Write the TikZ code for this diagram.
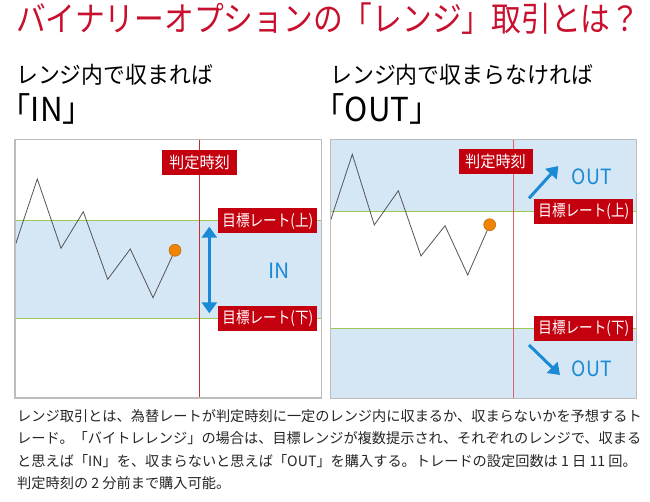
\documentclass[tikz,border=0pt]{standalone}
\usepackage{fontspec}
\setmainfont{Noto Sans CJK JP}
\newfontfamily\jphalt[RawFeature=+halt]{Noto Sans CJK JP}
\usetikzlibrary{arrows.meta}
\definecolor{titlered}{HTML}{C8102E}
\definecolor{boxred}{HTML}{C4000F}
\definecolor{bandblue}{HTML}{D5E6F5}
\definecolor{arrowblue}{HTML}{1A8AD4}
\definecolor{rangegreen}{HTML}{9CCB52}
\definecolor{framegray}{HTML}{BDBDBD}
\definecolor{timered}{HTML}{C0302A}
\definecolor{timepink}{HTML}{DC6272}
\definecolor{dotorange}{HTML}{F08300}
\definecolor{dotedge}{HTML}{B86A10}
\definecolor{pricegray}{HTML}{555555}
\newcommand{\sx}[2]{\scalebox{#1}[1]{#2}}
\begin{document}
\begin{tikzpicture}[x=1pt,y=-1pt,
  tagbox/.style={fill=boxred, text=white, inner sep=0pt, minimum height=25pt,
    font=\fontsize{16}{16}\selectfont},
  pricepath/.style={pricegray, line width=0.8pt, line join=miter},
  pricedot/.style={circle, fill=dotorange, draw=dotedge, line width=0.5pt, inner sep=0pt, minimum size=12pt},
  rangeline/.style={rangegreen, line width=1.2pt},
  frame/.style={framegray, line width=1.5pt},
  bluearrow/.style={arrowblue, line width=3pt, -{Triangle[width=15pt,length=11pt]}},
  bluedouble/.style={arrowblue, line width=3pt, {Triangle[width=15pt,length=11pt]}-{Triangle[width=15pt,length=11pt]}},
  bluetext/.style={text=arrowblue, inner sep=0pt, anchor=base, font=\fontsize{21}{21}\selectfont},
  bodytext/.style={anchor=base west, inner sep=0pt, font=\fontsize{14.2}{14.2}\selectfont, text=black!85}
]
\useasboundingbox (0,0) rectangle (650,502);
\fill[white] (0,0) rectangle (650,502);

% ---------- titles ----------
\node[anchor=base west, inner sep=0pt, text=titlered, font=\fontsize{34}{34}\selectfont]
  (title) at (16,32) {\sx{0.875}{バイナリーオプションの「レンジ」取引とは？}};
\node[anchor=base west, inner sep=0pt, font=\fontsize{23}{23}\selectfont]
  (subin) at (16,84) {\sx{0.95}{レンジ内で収まれば}};
\node[anchor=base west, inner sep=0pt, font=\fontsize{33}{33}\selectfont]
  (bigin) at (15,122) {\sx{0.95}{\jphalt 「IN」}};
\node[anchor=base west, inner sep=0pt, font=\fontsize{23}{23}\selectfont]
  (subout) at (330,84) {\sx{0.953}{レンジ内で収まらなければ}};
\node[anchor=base west, inner sep=0pt, font=\fontsize{33}{33}\selectfont]
  (bigout) at (329,122) {\sx{0.95}{\jphalt 「OUT」}};

% ---------- left panel (IN) ----------
\fill[white] (15,139.5) rectangle (321.5,398);
\fill[bandblue] (15,220.7) rectangle (321.5,318.3);
\draw[rangeline] (15,220.7) -- (321.5,220.7);
\draw[rangeline] (15,318.3) -- (321.5,318.3);
\draw[timered, line width=0.9pt] (199.5,139.5) -- (199.5,398);
\coordinate (a1) at (15,246);
\coordinate (a2) at (37.3,179);
\coordinate (a3) at (61,248.3);
\coordinate (a4) at (83.3,211.7);
\coordinate (a5) at (107.7,279.3);
\coordinate (a6) at (130.3,249);
\coordinate (a7) at (153,297.7);
\node[pricedot] (adot) at (175,250.3) {};
\draw[pricepath] (a1) -- (a2) -- (a3) -- (a4) -- (a5) -- (a6) -- (a7) -- (adot);
\node[tagbox, minimum width=75pt] (ltime) at (199.5,162.5) {\sx{0.95}{判定時刻}};
\node[tagbox, minimum width=99pt] (lupper) at (267.8,221) {\sx{0.85}{目標レート(上)}};
\node[tagbox, minimum width=99pt] (llower) at (267.8,318.8) {\sx{0.85}{目標レート(下)}};
\coordinate (intop) at (209.3,226.7);
\coordinate (inbot) at (209.3,313.3);
\draw[bluedouble] (intop) -- (inbot);
\node[bluetext] (intext) at (279.3,278.3) {IN};
\draw[frame] (15,139.5) rectangle (321.5,398);

% ---------- right panel (OUT) ----------
\fill[bandblue] (330.7,139.5) rectangle (636.7,398.3);
\fill[white] (330.7,211.7) rectangle (636.7,328.3);
\draw[rangeline] (330.7,211.7) -- (636.7,211.7);
\draw[rangeline] (330.7,328.3) -- (636.7,328.3);
\draw[timepink, line width=0.9pt] (513.7,139.5) -- (513.7,398.3);
\coordinate (b1) at (330.7,220);
\coordinate (b2) at (352.3,154.3);
\coordinate (b3) at (374.3,225);
\coordinate (b4) at (398.3,190.7);
\coordinate (b5) at (421,256);
\coordinate (b6) at (445,225.7);
\coordinate (b7) at (467.7,275);
\node[pricedot] (bdot) at (489.7,224.7) {};
\draw[pricepath] (b1) -- (b2) -- (b3) -- (b4) -- (b5) -- (b6) -- (b7) -- (bdot);
\node[tagbox, minimum width=74pt] (rtime) at (495.5,161.7) {\sx{0.95}{判定時刻}};
\node[tagbox, minimum width=99pt] (rupper) at (583.8,211.8) {\sx{0.85}{目標レート(上)}};
\node[tagbox, minimum width=99pt] (rlower) at (583.8,328.5) {\sx{0.85}{目標レート(下)}};
\coordinate (upstart) at (529,198.3);
\coordinate (upend) at (558.3,166);
\coordinate (downstart) at (529,345);
\coordinate (downend) at (560,375);
\draw[bluearrow] (upstart) -- (upend);
\draw[bluearrow] (downstart) -- (downend);
\node[bluetext] (outup) at (591.7,185) {\sx{0.92}{OUT}};
\node[bluetext] (outdown) at (591.7,376.7) {\sx{0.92}{OUT}};
\draw[frame] (330.7,139.5) rectangle (636.7,398.3);

% ---------- explanation ----------
\node[bodytext] (line1) at (17,421) {レンジ取引とは、為替レートが判定時刻に一定のレンジ内に収まるか、収まらないかを予想するト};
\node[bodytext] (line2) at (17,443.5) {レード。「バイトレレンジ」の場合は、目標レンジが複数提示され、それぞれのレンジで、収まる};
\node[bodytext] (line3) at (17,466) {と思えば「IN」を、収まらないと思えば「OUT」を購入する。トレードの設定回数は 1 日 11 回。};
\node[bodytext] (line4) at (17,488.5) {判定時刻の 2 分前まで購入可能。};
\end{tikzpicture}
\end{document}
